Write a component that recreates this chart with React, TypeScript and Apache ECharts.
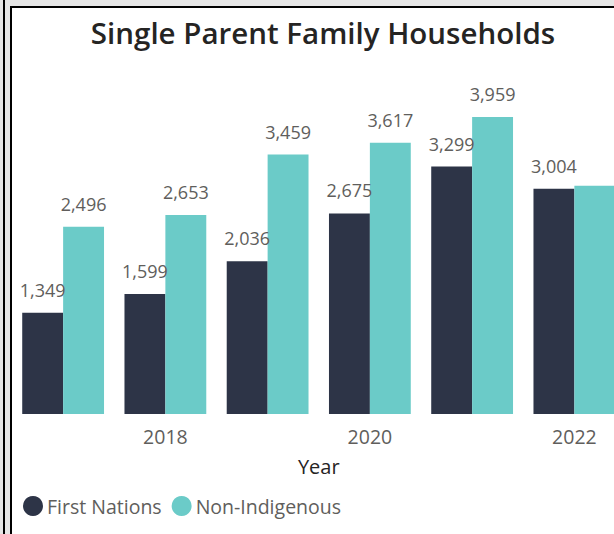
import React, { useEffect, useRef } from "react";
import * as echarts from "echarts";

const categories = ["2017", "2018", "2019", "2020", "2021", "2022"];
const firstNations = [1349, 1599, 2036, 2675, 3299, 3004];
const nonIndigenous = [2496, 2653, 3459, 3617, 3959, 3045];
const seriesNames = ["First Nations", "Non-Indigenous"];
const titleText = "Single Parent Family Households";
const axisTitle = "Year";

const FONT = "'Open Sans', 'Noto Sans', sans-serif";
const DARK = "#2D3447";
const TEAL = "#6BCBC8";
const LABEL = "#605E5C";

export default function App() {
  const ref = useRef<HTMLDivElement>(null);
  useEffect(() => {
    if (!ref.current) return;
    const chart = echarts.init(ref.current, undefined, { renderer: "svg" });
    const labelBase = {
      show: true,
      position: "top",
      distance: 14,
      color: LABEL,
      fontSize: 18,
      fontFamily: FONT,
      formatter: (p: any) => Number(p.value).toLocaleString("en-US"),
    };
    chart.setOption({
      animation: false,
      backgroundColor: "transparent",
      title: {
        text: titleText,
        left: 318,
        textAlign: "center",
        top: 12,
        textStyle: { fontFamily: FONT, fontSize: 29.5, fontWeight: 600, color: "#252423" },
      },
      legend: {
        left: 23,
        top: 496,
        icon: "circle",
        itemWidth: 20,
        itemHeight: 20,
        itemGap: 10,
        padding: 0,
        textStyle: { fontFamily: FONT, fontSize: 19.5, color: LABEL, padding: [0, 0, 0, -1] },
        data: seriesNames,
      },
      grid: {
        left: 12,
        width: 613.5,
        top: 114,
        bottom: 120,
        containLabel: false,
        outerBoundsMode: "none",
      },
      xAxis: {
        type: "category",
        data: categories,
        axisLine: { show: false },
        axisTick: { show: false },
        axisLabel: {
          interval: (i: number) => i % 2 === 1,
          color: LABEL,
          fontSize: 19.5,
          fontFamily: FONT,
          margin: 12,
        },
        name: axisTitle,
        nameLocation: "middle",
        nameGap: 42,
        nameTextStyle: { fontFamily: FONT, fontSize: 20, color: "#252423" },
      },
      yAxis: { type: "value", show: false, min: 0, max: 4000, splitLine: { show: false } },
      series: [
        {
          name: seriesNames[0],
          type: "bar",
          data: firstNations,
          itemStyle: { color: DARK },
          barGap: "0%",
          barCategoryGap: "20%",
          label: labelBase,
        },
        {
          name: seriesNames[1],
          type: "bar",
          data: nonIndigenous.map((v, i) =>
            i === nonIndigenous.length - 1 ? { value: v, label: { show: false } } : v
          ),
          itemStyle: { color: TEAL },
          barGap: "0%",
          barCategoryGap: "20%",
          label: labelBase,
        },
      ],
    });
    return () => chart.dispose();
  }, []);

  return (
    <div
      style={{
        position: "fixed",
        left: 0,
        top: 0,
        width: 614,
        height: 534,
        background: "#E6E6E6",
        overflow: "hidden",
      }}
    >
      <div style={{ position: "absolute", left: 3, top: 0, width: 2, height: 534, background: "#000" }} />
      <div
        style={{
          position: "absolute",
          left: 10,
          top: 6,
          width: 700,
          height: 600,
          background: "#fff",
          borderLeft: "2px solid #000",
          borderTop: "2px solid #000",
        }}
      />
      <div ref={ref} style={{ position: "absolute", left: 0, top: 0, width: 614, height: 534 }} />
    </div>
  );
}
